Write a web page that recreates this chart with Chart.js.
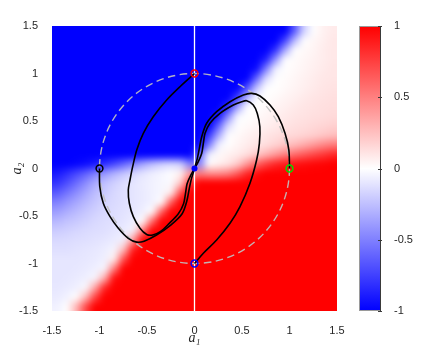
<!DOCTYPE html>
<html><head><meta charset="utf-8">
<script src="https://cdn.jsdelivr.net/npm/chart.js@4.4.1/dist/chart.umd.min.js"></script>
<style>
html,body{margin:0;padding:0;background:#fff;}
#wrap{position:relative;width:440px;height:349px;overflow:hidden;}
canvas{position:absolute;top:0;}
</style>
</head><body>
<div id="wrap">
<canvas id="main" width="440" height="349" style="left:0;width:440px;height:349px"></canvas>
<canvas id="cb" width="100" height="349" style="left:340px;width:100px;height:349px"></canvas>
</div>
<script>
// ---------- data ----------
const xTicks = [-1.5,-1,-0.5,0,0.5,1,1.5];
const xTickLabels = ['-1.5','-1','-0.5','0','0.5','1','1.5'];
const yTicks = [-1.5,-1,-0.5,0,0.5,1,1.5];
const yTickLabels = ['-1.5','-1','-0.5','0','0.5','1','1.5'];
const cbTicks = [-1,-0.5,0,0.5,1];
const cbTickLabels = ['-1','-0.5','0','0.5','1'];
const cbLevels = [-1,-0.9,-0.8,-0.7,-0.6,-0.5,-0.4,-0.3,-0.2,-0.1,0,0.1,0.2,0.3,0.4,0.5,0.6,0.7,0.8,0.9,1];

// heat-map cell centres (a1 left->right, a2 top->bottom)
const a1Centers = [-1.45,-1.35,-1.25,-1.15,-1.05,-0.95,-0.85,-0.75,-0.65,-0.55,-0.45,-0.35,-0.25,-0.15,-0.05,0.05,0.15,0.25,0.35,0.45,0.55,0.65,0.75,0.85,0.95,1.05,1.15,1.25,1.35,1.45];
const a2Centers = [1.45,1.35,1.25,1.15,1.05,0.95,0.85,0.75,0.65,0.55,0.45,0.35,0.25,0.15,0.05,-0.05,-0.15,-0.25,-0.35,-0.45,-0.55,-0.65,-0.75,-0.85,-0.95,-1.05,-1.15,-1.25,-1.35,-1.45];
// cell values (one row per a2 centre)
const fieldRows = [
[-1,-1,-1,-1,-1,-1,-1,-1,-1,-1,-1,-1,-1,-1,-1, -1,-1,-1,-1,-1,-1,-1,-1,-1,-1,-0.64,-0.18,0,0.05,0.08],
[-1,-1,-1,-1,-1,-1,-1,-1,-1,-1,-1,-1,-1,-1,-1, -1,-1,-1,-1,-1,-1,-1,-1,-1,-0.73,-0.27,0,0.03,0.06,0.09],
[-1,-1,-1,-1,-1,-1,-1,-1,-1,-1,-1,-1,-1,-1,-1, -1,-1,-1,-1,-1,-1,-1,-1,-0.8,-0.35,0,0.02,0.04,0.07,0.09],
[-1,-1,-1,-1,-1,-1,-1,-1,-1,-1,-1,-1,-1,-1,-1, -1,-1,-1,-1,-1,-1,-1,-0.86,-0.41,0,0.01,0.03,0.05,0.07,0.09],
[-1,-1,-1,-1,-1,-1,-1,-1,-1,-1,-1,-1,-1,-1,-1, -1,-1,-1,-1,-1,-1,-0.95,-0.5,-0.05,0,0.02,0.04,0.06,0.08,0.1],
[-1,-1,-1,-1,-1,-1,-1,-1,-1,-1,-1,-1,-1,-1,-1, -1,-1,-1,-1,-1,-1,-0.59,-0.14,0,0.01,0.03,0.05,0.07,0.09,0.1],
[-1,-1,-1,-1,-1,-1,-1,-1,-1,-1,-1,-1,-1,-1,-1, -1,-1,-1,-1,-1,-0.68,-0.23,0,0,0.02,0.04,0.06,0.08,0.1,0.11],
[-1,-1,-1,-1,-1,-1,-1,-1,-1,-1,-1,-1,-1,-1,-1, -1,-1,-1,-1,-0.75,-0.3,0,0,0.02,0.04,0.06,0.08,0.1,0.11,0.12],
[-1,-1,-1,-1,-1,-1,-1,-1,-1,-1,-1,-1,-1,-1,-1, -1,-1,-1,-0.82,-0.36,0,0,0.02,0.04,0.06,0.08,0.1,0.11,0.12,0.13],
[-1,-1,-1,-1,-1,-1,-1,-1,-1,-1,-1,-1,-1,-1,-1, -1,-1,-0.9,-0.45,-0.02,0,0.02,0.04,0.06,0.08,0.1,0.11,0.12,0.13,0.14],
[-1,-1,-1,-1,-1,-1,-1,-1,-1,-1,-1,-1,-1,-1,-1, -1,-1,-0.6,-0.14,0,0.02,0.04,0.06,0.08,0.1,0.12,0.13,0.15,0.16,0.18],
[-1,-1,-1,-1,-1,-1,-1,-1,-1,-1,-1,-1,-1,-1,-1, -1,-0.77,-0.32,0,0.02,0.05,0.07,0.1,0.12,0.14,0.15,0.17,0.19,0.22,0.25],
[-1,-1,-1,-1,-1,-1,-1,-1,-1,-1,-1,-1,-1,-1,-1, -0.95,-0.5,-0.05,0,0.04,0.07,0.1,0.13,0.17,0.22,0.27,0.33,0.4,0.47,0.52],
[-1,-1,-1,-1,-1,-1,-1,-1,-1,-1,-1,-1,-1,-1,-1, -0.6,-0.05,0.02,0.05,0.08,0.12,0.2,0.3,0.4,0.5,0.58,0.65,0.72,0.78,0.85],
[-1,-1,-0.98,-0.95,-0.9,-0.82,-0.72,-0.6,-0.48,-0.35,-0.25,-0.18,-0.15,-0.18,-0.5, -0.5,0,0.05,0.1,0.2,0.4,0.6,0.75,0.85,0.9,0.93,0.95,0.97,0.98,1],
[-0.9,-0.82,-0.72,-0.62,-0.5,-0.4,-0.3,-0.22,-0.15,-0.1,-0.06,-0.03,0,0.05,0.4, 0.5,0.45,0.45,0.5,0.65,0.85,0.95,1,1,1,1,1,1,1,1],
[-0.8,-0.7,-0.58,-0.45,-0.33,-0.24,-0.18,-0.13,-0.1,-0.07,-0.05,-0.03,-0.02,0.2,0.81, 1,1,1,1,1,1,1,1,1,1,1,1,1,1,1],
[-0.65,-0.55,-0.45,-0.35,-0.26,-0.2,-0.15,-0.12,-0.1,-0.08,-0.05,-0.03,0.06,0.69,1, 1,1,1,1,1,1,1,1,1,1,1,1,1,1,1],
[-0.5,-0.42,-0.35,-0.28,-0.22,-0.17,-0.14,-0.12,-0.1,-0.08,-0.05,0,0.62,1,1, 1,1,1,1,1,1,1,1,1,1,1,1,1,1,1],
[-0.38,-0.32,-0.27,-0.22,-0.18,-0.15,-0.13,-0.11,-0.09,-0.06,0,0.62,1,1,1, 1,1,1,1,1,1,1,1,1,1,1,1,1,1,1],
[-0.28,-0.24,-0.21,-0.18,-0.15,-0.13,-0.12,-0.1,-0.07,0,0.56,1,1,1,1, 1,1,1,1,1,1,1,1,1,1,1,1,1,1,1],
[-0.2,-0.18,-0.16,-0.14,-0.13,-0.12,-0.1,-0.08,-0.04,0.5,1,1,1,1,1, 1,1,1,1,1,1,1,1,1,1,1,1,1,1,1],
[-0.15,-0.14,-0.13,-0.12,-0.11,-0.1,-0.08,-0.05,0.38,1,1,1,1,1,1, 1,1,1,1,1,1,1,1,1,1,1,1,1,1,1],
[-0.12,-0.12,-0.11,-0.1,-0.09,-0.07,-0.04,0.25,0.88,1,1,1,1,1,1, 1,1,1,1,1,1,1,1,1,1,1,1,1,1,1],
[-0.1,-0.1,-0.1,-0.09,-0.08,-0.06,0.06,0.69,1,1,1,1,1,1,1, 1,1,1,1,1,1,1,1,1,1,1,1,1,1,1],
[-0.1,-0.1,-0.09,-0.08,-0.06,-0.03,0.5,1,1,1,1,1,1,1,1, 1,1,1,1,1,1,1,1,1,1,1,1,1,1,1],
[-0.1,-0.09,-0.08,-0.06,-0.03,0.31,0.94,1,1,1,1,1,1,1,1, 1,1,1,1,1,1,1,1,1,1,1,1,1,1,1],
[-0.09,-0.08,-0.06,-0.02,0.35,0.85,1,1,1,1,1,1,1,1,1, 1,1,1,1,1,1,1,1,1,1,1,1,1,1,1],
[-0.08,-0.05,0,0.27,0.73,1,1,1,1,1,1,1,1,1,1, 1,1,1,1,1,1,1,1,1,1,1,1,1,1,1],
[-0.05,0,0.28,0.72,1,1,1,1,1,1,1,1,1,1,1, 1,1,1,1,1,1,1,1,1,1,1,1,1,1,1]
];

const circleRadius = 1;
const vLineX = 0;

// trajectories [a1, a2]
const curveRed = [[0,1],[-0.153,0.861],[-0.293,0.721],[-0.434,0.545],[-0.539,0.37],[-0.608,0.195],[-0.651,0.019],[-0.679,-0.121],[-0.697,-0.226],[-0.686,-0.366],[-0.644,-0.507],[-0.574,-0.629],[-0.503,-0.695],[-0.44,-0.7],[-0.36,-0.665],[-0.268,-0.58],[-0.17,-0.476],[-0.115,-0.37],[-0.095,-0.265],[-0.078,-0.16],[-0.04,-0.072],[0,0]];
const curveBlack = [[-1,0],[-0.997,-0.19],[-0.96,-0.366],[-0.889,-0.507],[-0.802,-0.629],[-0.697,-0.735],[-0.608,-0.775],[-0.53,-0.765],[-0.4,-0.7],[-0.25,-0.595],[-0.13,-0.476],[-0.08,-0.34],[-0.055,-0.212],[-0.032,-0.107],[0,0]];
const curveBlue = [[0,-1],[0.093,-0.892],[0.233,-0.753],[0.374,-0.577],[0.479,-0.402],[0.584,-0.156],[0.654,0.089],[0.683,0.265],[0.688,0.44],[0.661,0.58],[0.619,0.668],[0.549,0.714],[0.497,0.703],[0.409,0.668],[0.268,0.58],[0.163,0.476],[0.111,0.37],[0.093,0.265],[0.076,0.16],[0.04,0.072],[0,0]];
const curveGreen = [[1,0],[0.993,0.195],[0.953,0.37],[0.882,0.545],[0.795,0.668],[0.689,0.763],[0.602,0.791],[0.514,0.774],[0.374,0.703],[0.233,0.598],[0.128,0.476],[0.076,0.335],[0.051,0.212],[0.03,0.107],[0,0]];

const startPoints = [[0,1],[-1,0],[0,-1],[1,0]];
const startColors = ['#ff0000','#000000','#0000ff','#00e000'];
const originPoint = [[0,0]];

// ---------- helpers ----------
const TXT = '#262626';
const SANS = "'Liberation Sans', Arial, Helvetica, sans-serif";
const SERIF = "'Liberation Serif', 'DejaVu Serif', serif";
function cmap(v){
  v = Math.max(-1, Math.min(1, v));
  if (v < 0) { const t = Math.round(255*(1+v)); return [t,t,255]; }
  const t = Math.round(255*(1-v)); return [255,t,t];
}
const pts = a => a.map(p => ({x:p[0], y:p[1]}));

const heatPlugin = {
  id:'heat',
  beforeDatasetsDraw(chart){
    const {ctx, chartArea:ca, scales:{x, y}} = chart;
    const nR = fieldRows.length, nC = fieldRows[0].length;
    // small image with one replicated border cell on each side (rendering only)
    const off = document.createElement('canvas');
    off.width = nC + 2; off.height = nR + 2;
    const octx = off.getContext('2d');
    const img = octx.createImageData(nC + 2, nR + 2);
    for (let r = 0; r < nR + 2; r++) for (let c = 0; c < nC + 2; c++) {
      const rr = Math.min(nR-1, Math.max(0, r-1)), cc = Math.min(nC-1, Math.max(0, c-1));
      const [R,G,B] = cmap(fieldRows[rr][cc]);
      const k = (r*(nC+2) + c)*4;
      img.data[k]=R; img.data[k+1]=G; img.data[k+2]=B; img.data[k+3]=255;
    }
    octx.putImageData(img, 0, 0);
    const hx = (a1Centers[1]-a1Centers[0])/2, hy = (a2Centers[0]-a2Centers[1])/2;
    const L = x.getPixelForValue(a1Centers[0]-hx), Rr = x.getPixelForValue(a1Centers[nC-1]+hx);
    const T = y.getPixelForValue(a2Centers[0]+hy), Bb = y.getPixelForValue(a2Centers[nR-1]-hy);
    const cw = (Rr-L)/nC, ch = (Bb-T)/nR;
    const mid = document.createElement('canvas');
    const W = Math.ceil(Rr-L+2*cw), H = Math.ceil(Bb-T+2*ch);
    mid.width = W; mid.height = H;
    const mctx = mid.getContext('2d');
    mctx.imageSmoothingEnabled = true;
    mctx.drawImage(off, 0, 0, W, H);
    ctx.save();
    ctx.beginPath(); ctx.rect(ca.left, ca.top, ca.width, ca.height); ctx.clip();
    ctx.filter = 'blur(2.6px)';
    ctx.drawImage(mid, L-cw, T-ch);
    ctx.filter = 'none';
    // dashed unit circle
    const cx = x.getPixelForValue(0), cy = y.getPixelForValue(0);
    const rad = x.getPixelForValue(circleRadius) - cx;
    ctx.beginPath();
    ctx.setLineDash([7.5,4.5]);
    ctx.lineWidth = 1.4;
    ctx.strokeStyle = 'rgba(192,192,192,0.92)';
    ctx.arc(cx, cy, rad, 0, Math.PI*2);
    ctx.stroke();
    ctx.restore();
  }
};

const curveDs = (arr) => ({data: pts(arr), showLine:true, borderColor:'#000', borderWidth:1.6, pointRadius:0, tension:0.3, order:3});

new Chart(document.getElementById('main'), {
  type:'scatter',
  data:{datasets:[
    {data: pts([[vLineX, yTicks[0]],[vLineX, yTicks[yTicks.length-1]]]), showLine:true, borderColor:'#ffffff', borderWidth:1.3, pointRadius:0, order:5},
    curveDs(curveRed), curveDs(curveBlack), curveDs(curveBlue), curveDs(curveGreen),
    {data: pts(startPoints), showLine:false, pointRadius:3.4, pointBorderWidth:1.5, pointBorderColor:startColors, pointBackgroundColor:'rgba(0,0,0,0)', order:2},
    {data: pts(originPoint), showLine:false, pointRadius:3, pointBorderWidth:0, pointBackgroundColor:'#0000ff', pointBorderColor:'#0000ff', order:1}
  ]},
  options:{
    responsive:false, animation:false, events:[],
    layout:{padding:{left:0, right:103, top:26, bottom:0}},
    plugins:{legend:{display:false}, tooltip:{enabled:false}},
    scales:{
      x:{type:'linear', position:'bottom', min:xTicks[0], max:xTicks[xTicks.length-1],
        afterBuildTicks: s => { s.ticks = xTicks.map(v => ({value:v})); },
        afterFit: s => { s.height = 38; },
        ticks:{autoSkip:false, maxRotation:0, padding:5, color:TXT, font:{family:SANS, size:11},
          callback: v => xTickLabels[xTicks.indexOf(v)]},
        grid:{display:false}, border:{display:false},
        title:{display:true, text:'a\u2081', color:TXT, font:{family:SERIF, style:'italic', size:14}, padding:{top:0, bottom:2}}
      },
      y:{type:'linear', position:'left', min:yTicks[0], max:yTicks[yTicks.length-1],
        afterBuildTicks: s => { s.ticks = yTicks.map(v => ({value:v})); },
        afterFit: s => { s.width = 52; },
        ticks:{autoSkip:false, padding:6, color:TXT, font:{family:SANS, size:11},
          callback: v => yTickLabels[yTicks.indexOf(v)]},
        grid:{display:false}, border:{display:false},
        title:{display:true, text:'a\u2082', color:TXT, font:{family:SERIF, style:'italic', size:14}, padding:{top:9, bottom:0}}
      }
    }
  },
  plugins:[heatPlugin]
});

// ---------- colour bar ----------
const cbPlugin = {
  id:'cbar',
  beforeDatasetsDraw(chart){
    const {ctx, chartArea:ca, scales:{y}} = chart;
    const y0 = y.getPixelForValue(cbLevels[0]), y1 = y.getPixelForValue(cbLevels[cbLevels.length-1]);
    const g = ctx.createLinearGradient(0, y0, 0, y1);
    cbLevels.forEach(v => {
      const [R,G,B] = cmap(v);
      g.addColorStop((v - cbLevels[0])/(cbLevels[cbLevels.length-1]-cbLevels[0]), `rgb(${R},${G},${B})`);
    });
    ctx.save();
    ctx.fillStyle = g;
    ctx.fillRect(ca.left, y1, ca.right-ca.left, y0-y1);
    ctx.lineWidth = 1;
    ctx.strokeStyle = '#9a9a9a';
    ctx.strokeRect(ca.left+0.5, y1+0.5, ca.right-ca.left-1, y0-y1-1);
    ctx.strokeStyle = '#3a3a3a';
    ctx.beginPath();
    ctx.moveTo(ca.right-0.5, y1); ctx.lineTo(ca.right-0.5, y0);
    cbTicks.forEach(v => {
      const py = Math.round(y.getPixelForValue(v)) + 0.5;
      ctx.moveTo(ca.right-3, py); ctx.lineTo(ca.right+1, py);
    });
    ctx.stroke();
    ctx.restore();
  }
};

new Chart(document.getElementById('cb'), {
  type:'scatter',
  data:{datasets:[{data:[], pointRadius:0}]},
  options:{
    responsive:false, animation:false, events:[],
    layout:{padding:{left:19, right:0, top:26, bottom:38}},
    plugins:{legend:{display:false}, tooltip:{enabled:false}},
    scales:{
      x:{type:'linear', display:false, min:0, max:1},
      y:{type:'linear', position:'right', min:cbTicks[0], max:cbTicks[cbTicks.length-1],
        afterBuildTicks: s => { s.ticks = cbTicks.map(v => ({value:v})); },
        afterFit: s => { s.width = 59; },
        ticks:{autoSkip:false, padding:5, color:TXT, font:{family:SANS, size:11},
          callback: v => cbTickLabels[cbTicks.indexOf(v)]},
        grid:{display:false}, border:{display:false}
      }
    }
  },
  plugins:[cbPlugin]
});
</script>
</body></html>
